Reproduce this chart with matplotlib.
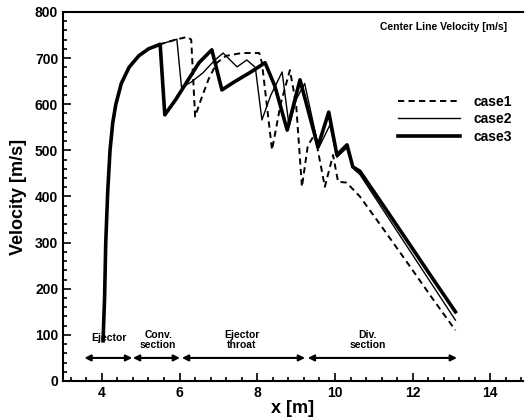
import matplotlib.pyplot as plt
from matplotlib.ticker import MultipleLocator

'''
Data read off the reference picture
'''
# shared start of the curves (all three cases rise together)
x_rise = [4.03, 4.07, 4.10, 4.15, 4.21, 4.28, 4.36, 4.50, 4.70, 4.95, 5.20, 5.50]
v_rise = [87, 180, 300, 410, 500, 560, 600, 645, 680, 705, 720, 730]

x_case1 = [5.90, 6.20, 6.30, 6.40, 6.55, 6.75, 6.96, 7.20, 7.60, 8.05, 8.12, 8.38,
           8.60, 8.84, 9.00, 9.15, 9.30, 9.48, 9.74, 9.95, 10.08, 10.30, 10.64,
           11.20, 11.90, 12.50, 13.10]
v_case1 = [740, 746, 740, 573, 610, 655, 690, 705, 711, 711, 690, 501,
           600, 674, 600, 421, 510, 535, 421, 490, 432, 430, 400,
           335, 252, 180, 110]

x_case2 = [5.93, 6.05, 6.30, 6.60, 6.90, 7.12, 7.48, 7.73, 7.95, 8.12, 8.35, 8.64,
           8.82, 9.00, 9.22, 9.58, 9.87, 10.05, 10.30, 10.50, 10.64,
           11.20, 11.90, 12.50, 13.10]
v_case2 = [741, 637, 648, 668, 695, 711, 681, 696, 680, 566, 620, 670,
           552, 610, 645, 505, 555, 485, 505, 458, 448,
           376, 286, 209, 132]

x_case3 = [5.62, 5.90, 6.20, 6.50, 6.83, 7.09, 7.40, 7.80, 8.20, 8.45, 8.77, 9.10,
           9.56, 9.84, 10.05, 10.31, 10.46, 10.64, 11.20, 11.90, 12.50, 13.10]
v_case3 = [577, 610, 650, 690, 718, 631, 648, 668, 690, 640, 544, 653,
           508, 583, 490, 512, 464, 455, 386, 299, 224, 150]

# sections along the ejector
sec_start = [3.55, 4.80, 6.06, 9.30]
sec_end = [4.78, 6.01, 9.23, 13.14]
sec_label = ['Ejector', 'Conv.\nsection', 'Ejector\nthroat', 'Div.\nsection']
sec_label_x = [4.17, 5.45, 7.60, 10.85]

plt.rcParams['font.family'] = ['Liberation Sans', 'DejaVu Sans']
plt.rcParams['font.weight'] = 'bold'

fig = plt.figure(figsize=(5.26, 4.19), dpi=100)
ax = fig.add_axes([0.1198, 0.0907, 0.8745, 0.8807])

ax.plot(x_rise + x_case1, v_rise + v_case1, color='k', lw=1.4,
        dashes=(3.2, 2.2), label='case1')
ax.plot(x_rise + x_case2, v_rise + v_case2, color='k', lw=1.0, label='case2')
ax.plot(x_rise + x_case3, v_rise + v_case3, color='k', lw=2.6, label='case3')

# section arrows and labels
for x0, x1, lab, lx in zip(sec_start, sec_end, sec_label, sec_label_x):
    ax.annotate('', xy=(x1, 50), xytext=(x0, 50),
                arrowprops=dict(arrowstyle='<|-|>', color='k', lw=1.5,
                                mutation_scale=9, shrinkA=0, shrinkB=0))
    ly = 82 if lab == 'Ejector' else 68
    ax.text(lx, ly, lab, ha='center', va='bottom', fontsize=7.5,
            fontweight='bold', linespacing=0.95)

ax.text(0.828, 0.959, 'Center Line Velocity [m/s]', transform=ax.transAxes,
        ha='center', va='center', fontsize=7.5, fontweight='bold')

ax.legend(loc='upper left', bbox_to_anchor=(0.70, 0.81), frameon=False,
          fontsize=10, handlelength=4.5, handletextpad=1.0, labelspacing=0.25,
          prop={'weight': 'bold', 'size': 10})

ax.set_xlim(3, 14.84)
ax.set_ylim(0, 800)
ax.xaxis.set_major_locator(MultipleLocator(2))
ax.xaxis.set_minor_locator(MultipleLocator(0.4))
ax.yaxis.set_major_locator(MultipleLocator(100))
ax.yaxis.set_minor_locator(MultipleLocator(20))
ax.tick_params(which='both', direction='in', top=False, right=False, width=1.2,
               labelsize=10)
ax.tick_params(which='major', length=6)
ax.tick_params(which='minor', length=3)
for lbl in ax.get_xticklabels() + ax.get_yticklabels():
    lbl.set_fontweight('bold')

ax.spines['right'].set_visible(False)
for s in ['left', 'bottom', 'top']:
    ax.spines[s].set_linewidth(1.5)

ax.set_xlabel('x [m]', fontsize=13, fontweight='bold', labelpad=0)
ax.set_ylabel('Velocity [m/s]', fontsize=13, fontweight='bold', labelpad=6)

fig.savefig('out.png', dpi=100)
